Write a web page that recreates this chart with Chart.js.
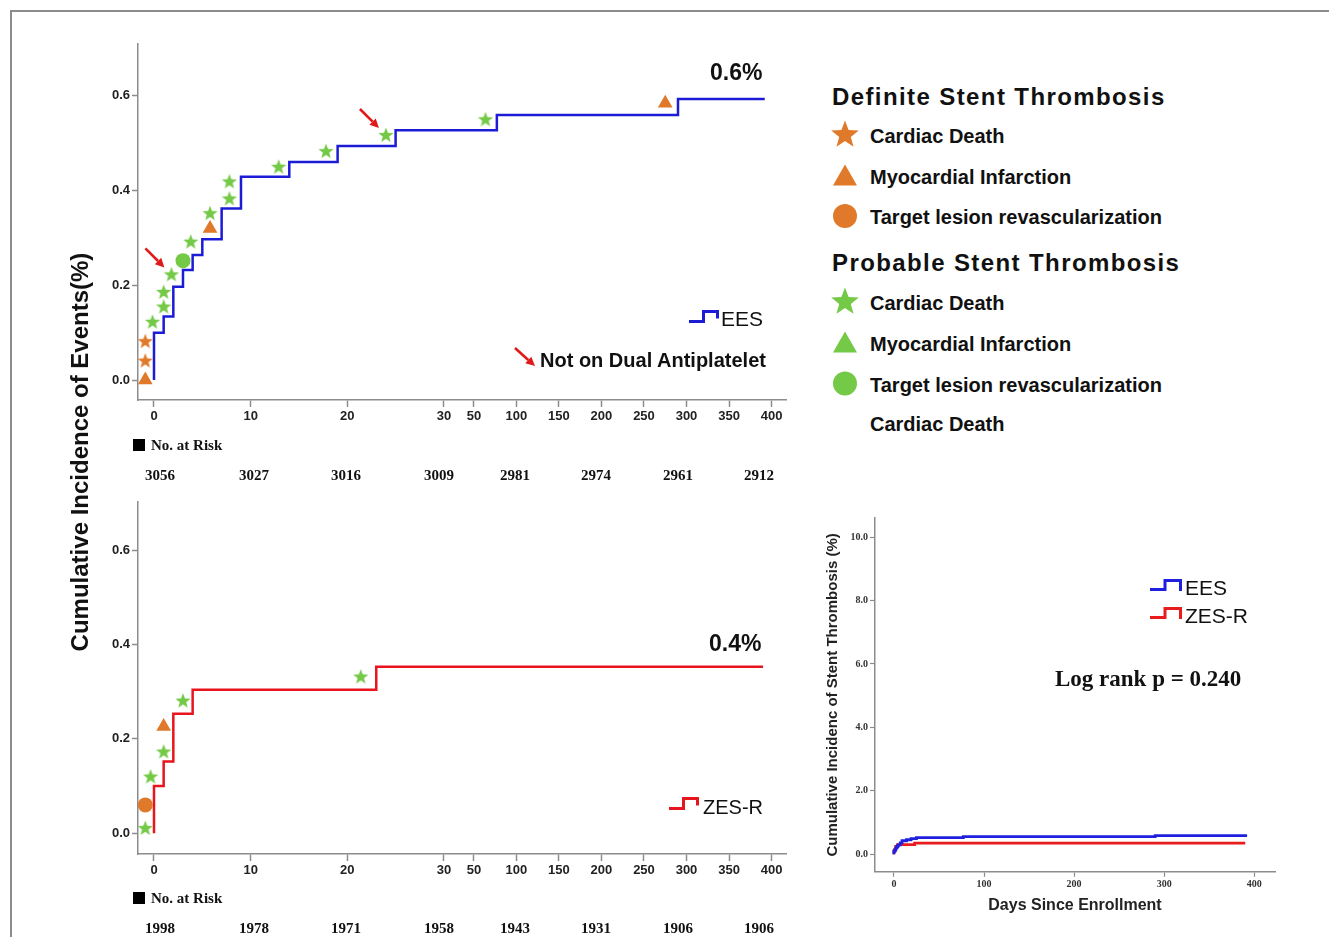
<!DOCTYPE html>
<html>
<head>
<meta charset="utf-8">
<script src="https://cdn.jsdelivr.net/npm/chart.js@4.4.1/dist/chart.umd.min.js"></script>
<style>
  html, body { margin:0; padding:0; background:#fff; }
  body { width:1329px; height:937px; position:relative; overflow:hidden; font-family:"Liberation Sans", Arial, sans-serif; color:#111; }
  .box { position:absolute; }
  .t { position:absolute; white-space:nowrap; line-height:1; }
</style>
</head>
<body>
<div class="box" style="left:10px;top:10px;width:1400px;height:1000px;border-top:2px solid #8c8c8c;border-left:2px solid #8c8c8c;"></div>
<div class="box" style="left:0;top:0;width:800px;height:490px;"><canvas id="topChart"></canvas></div>
<div class="box" style="left:0;top:490px;width:800px;height:447px;"><canvas id="bottomChart"></canvas></div>
<div class="box" style="left:800px;top:500px;width:529px;height:437px;"><canvas id="smallChart"></canvas></div>
<div id="overlay"></div>
<svg id="svg" class="box" style="left:0;top:0;" width="1329" height="937"></svg>
<script>
// ---------------- data ----------------
const X_TICK_DAYS = [0, 10, 20, 30, 50, 100, 150, 200, 250, 300, 350, 400];
const Y_TICKS = [0, 0.2, 0.4, 0.6];
const SMALL_X_TICKS = [0, 100, 200, 300, 400];
const SMALL_Y_TICKS = [0, 2, 4, 6, 8, 10];

// Kaplan-Meier style cumulative incidence (%) — EES
const EES_DAYS = [0, 0, 1, 2, 3, 4, 5, 7, 9, 14, 19, 25, 77, 290, 392];
const EES_CUM  = [0, 0.10, 0.134, 0.197, 0.232, 0.264, 0.297, 0.362, 0.429, 0.46, 0.494, 0.527, 0.559, 0.593, 0.593];
// ZES-R
const ZES_DAYS = [0, 0, 1, 2, 4, 23, 390];
const ZES_CUM  = [0, 0.10, 0.152, 0.253, 0.304, 0.353, 0.353];

// EES events
const EES_DEF_CD_DAYS = [-0.9, -0.9];
const EES_DEF_CD_VAL  = [0.041, 0.082];
const EES_DEF_MI_DAYS = [-0.9, 5.8, 275];
const EES_DEF_MI_VAL  = [0.0, 0.32, 0.584];
const EES_PROB_CD_DAYS = [-0.15, 1, 1, 1.8, 3.8, 5.8, 7.8, 7.8, 12.9, 17.8, 24, 63.6];
const EES_PROB_CD_VAL  = [0.123, 0.155, 0.186, 0.223, 0.292, 0.352, 0.383, 0.419, 0.45, 0.483, 0.517, 0.55];
const EES_PROB_CD_NO_DAPT = [false, false, false, true, false, false, false, false, false, false, true, false];
const EES_PROB_TLR_DAYS = [3];
const EES_PROB_TLR_VAL  = [0.252];

// ZES-R events
const ZES_PROB_CD_DAYS = [-0.9, -0.35, 1, 3, 21.4];
const ZES_PROB_CD_VAL  = [0.011, 0.12, 0.173, 0.281, 0.332];
const ZES_DEF_TLR_DAYS = [-0.9];
const ZES_DEF_TLR_VAL  = [0.06];
const ZES_DEF_MI_DAYS = [1];
const ZES_DEF_MI_VAL  = [0.226];

// Number at risk
const RISK_EES = [3056, 3027, 3016, 3009, 2981, 2974, 2961, 2912];
const RISK_ZES = [1998, 1978, 1971, 1958, 1943, 1931, 1906, 1906];

// ---------------- layout / style ----------------
const X_AXIS_UNITS = [0, 10, 20, 30, 33.1, 37.5, 41.9, 46.3, 50.7, 55.1, 59.5, 63.9]; // broken-axis spacing
const RISK_COL_X = [160, 254, 346, 439, 515, 596, 678, 759];
const SANS = '"Liberation Sans", Arial, sans-serif';
const SERIF = '"Liberation Serif", "Times New Roman", serif';
const AXIS = '#8c8c8c';
const BLUE = '#1c1cd6';
const RED = '#e8141e';
const ORANGE = '#e07a2a';
const GREEN = '#74c947';
const ARROW = '#e01a1a';

Chart.defaults.font.family = SANS;

// -------- piecewise (broken) x scale --------
class PiecewiseScale extends Chart.LinearScale {
  mapDay(v) {
    const d = X_TICK_DAYS, u = X_AXIS_UNITS, n = d.length - 1;
    if (v <= d[0]) return u[0] + (v - d[0]) * (u[1] - u[0]) / (d[1] - d[0]);
    for (let i = 1; i <= n; i++) {
      if (v <= d[i]) return u[i - 1] + (v - d[i - 1]) * (u[i] - u[i - 1]) / (d[i] - d[i - 1]);
    }
    return u[n] + (v - d[n]) * (u[n] - u[n - 1]) / (d[n] - d[n - 1]);
  }
  buildTicks() { return X_TICK_DAYS.map(v => ({ value: v })); }
  getPixelForValue(v) {
    if (v === null || v === undefined || isNaN(v)) return NaN;
    const a = this.mapDay(this.min), b = this.mapDay(this.max);
    return this.getPixelForDecimal((this.mapDay(v) - a) / (b - a));
  }
  getValueForPixel(p) {
    const a = this.mapDay(this.min), b = this.mapDay(this.max);
    const u = a + this.getDecimalForPixel(p) * (b - a);
    let lo = this.min, hi = this.max;
    for (let k = 0; k < 50; k++) { const m = (lo + hi) / 2; if (this.mapDay(m) < u) lo = m; else hi = m; }
    return (lo + hi) / 2;
  }
}
PiecewiseScale.id = 'piecewise';
Chart.register(PiecewiseScale);

// -------- marker images --------
function makeStar(color, size) {
  const c = document.createElement('canvas');
  c.width = size; c.height = size;
  const g = c.getContext('2d');
  const R = size / 2, r = R * 0.42, cx = size / 2, cy = size / 2 + 0.5;
  g.beginPath();
  for (let k = 0; k < 10; k++) {
    const a = -Math.PI / 2 + k * Math.PI / 5;
    const rad = k % 2 === 0 ? R : r;
    const x = cx + rad * Math.cos(a), y = cy + rad * Math.sin(a);
    if (k === 0) g.moveTo(x, y); else g.lineTo(x, y);
  }
  g.closePath();
  g.fillStyle = color;
  g.fill();
  return c;
}
const STAR_ORANGE = makeStar(ORANGE, 16);
const STAR_GREEN = makeStar(GREEN, 16);

const pts = (days, vals) => days.map((d, i) => ({ x: d, y: vals[i] }));

function stepLine(label, days, vals, color, width) {
  return { label, data: pts(days, vals), stepped: true, borderColor: color, borderWidth: width,
           pointRadius: 0, fill: false, borderJoinStyle: 'miter', borderCapStyle: 'butt', order: 5 };
}
function marker(label, days, vals, style, color, radius, extra) {
  return Object.assign({ label, data: pts(days, vals), showLine: false, pointStyle: style,
    pointRadius: radius, pointBackgroundColor: color, pointBorderColor: color, pointBorderWidth: 0,
    clip: false, order: 1 }, extra || {});
}

// -------- arrow plugin ("Not on Dual Antiplatelet") --------
function drawArrow(ctx, x1, y1, x2, y2, color) {
  const ang = Math.atan2(y2 - y1, x2 - x1), hl = 9, hw = 4.5;
  const bx = x2 - hl * Math.cos(ang), by = y2 - hl * Math.sin(ang);
  ctx.save();
  ctx.strokeStyle = color; ctx.fillStyle = color; ctx.lineWidth = 2.6;
  ctx.beginPath(); ctx.moveTo(x1, y1); ctx.lineTo(bx, by); ctx.stroke();
  ctx.beginPath();
  ctx.moveTo(x2, y2);
  ctx.lineTo(bx + hw * Math.sin(ang), by - hw * Math.cos(ang));
  ctx.lineTo(bx - hw * Math.sin(ang), by + hw * Math.cos(ang));
  ctx.closePath(); ctx.fill();
  ctx.restore();
}
const arrowPlugin = {
  id: 'noDaptArrows',
  afterDatasetsDraw(chart) {
    chart.data.datasets.forEach((ds, i) => {
      if (!ds.noDapt) return;
      chart.getDatasetMeta(i).data.forEach((pt, j) => {
        if (ds.noDapt[j]) drawArrow(chart.ctx, pt.x - 26, pt.y - 26, pt.x - 7, pt.y - 7, ARROW);
      });
    });
  }
};

function kmOptions(padTop, xHeight, yMin, yMax) {
  return {
    responsive: true, maintainAspectRatio: false, animation: false, events: [],
    layout: { padding: { top: padTop, right: 14, left: 0, bottom: 0 } },
    plugins: { legend: { display: false }, tooltip: { enabled: false }, title: { display: false } },
    scales: {
      x: {
        type: 'piecewise', min: -1.655, max: 417,
        afterFit(s) { s.height = xHeight; },
        border: { display: true, color: AXIS, width: 1.5 },
        grid: { display: true, drawOnChartArea: false, drawTicks: true, tickLength: 7, tickColor: AXIS, tickWidth: 1.5 },
        ticks: { autoSkip: false, maxRotation: 0, minRotation: 0, padding: 2, color: '#222',
                 font: { family: SANS, size: 13, weight: 'bold' }, callback: v => String(v) }
      },
      y: {
        type: 'linear', min: yMin, max: yMax,
        afterFit(s) { s.width = 138; },
        afterBuildTicks(s) { s.ticks = Y_TICKS.map(v => ({ value: v })); },
        border: { display: true, color: AXIS, width: 1.5 },
        grid: { display: true, drawOnChartArea: false, drawTicks: true, tickLength: 6, tickColor: AXIS, tickWidth: 1.5 },
        ticks: { padding: 2, color: '#222', font: { family: SANS, size: 13, weight: 'bold' },
                 callback: v => Number(v).toFixed(1) }
      }
    }
  };
}

// -------- top chart (EES) --------
new Chart(document.getElementById('topChart'), {
  type: 'line',
  data: {
    datasets: [
      marker('Definite Cardiac Death', EES_DEF_CD_DAYS, EES_DEF_CD_VAL, STAR_ORANGE, ORANGE, 7),
      marker('Definite Myocardial Infarction', EES_DEF_MI_DAYS, EES_DEF_MI_VAL, 'triangle', ORANGE, 8.5),
      marker('Probable Cardiac Death', EES_PROB_CD_DAYS, EES_PROB_CD_VAL, STAR_GREEN, GREEN, 7, { noDapt: EES_PROB_CD_NO_DAPT }),
      marker('Probable Target lesion revascularization', EES_PROB_TLR_DAYS, EES_PROB_TLR_VAL, 'circle', GREEN, 7.5),
      stepLine('EES', EES_DAYS, EES_CUM, BLUE, 2.5)
    ]
  },
  options: kmOptions(44, 90, -0.042, 0.709),
  plugins: [arrowPlugin]
});

// -------- bottom chart (ZES-R) --------
new Chart(document.getElementById('bottomChart'), {
  type: 'line',
  data: {
    datasets: [
      marker('Probable Cardiac Death', ZES_PROB_CD_DAYS, ZES_PROB_CD_VAL, STAR_GREEN, GREEN, 7),
      marker('Definite Target lesion revascularization', ZES_DEF_TLR_DAYS, ZES_DEF_TLR_VAL, 'circle', ORANGE, 7.5),
      marker('Definite Myocardial Infarction', ZES_DEF_MI_DAYS, ZES_DEF_MI_VAL, 'triangle', ORANGE, 8.5),
      stepLine('ZES-R', ZES_DAYS, ZES_CUM, RED, 2.5)
    ]
  },
  options: kmOptions(12, 83, -0.044, 0.702),
  plugins: [arrowPlugin]
});

// -------- small overall chart --------
new Chart(document.getElementById('smallChart'), {
  type: 'line',
  data: {
    datasets: [
      stepLine('EES', EES_DAYS, EES_CUM, '#1f1fe0', 2.8),
      stepLine('ZES-R', ZES_DAYS, ZES_CUM, '#e81c1c', 2.8)
    ]
  },
  options: {
    responsive: true, maintainAspectRatio: false, animation: false, events: [],
    layout: { padding: { top: 18, right: 54, left: 0, bottom: 0 } },
    plugins: { legend: { display: false }, tooltip: { enabled: false } },
    scales: {
      x: {
        type: 'linear', min: -21, max: 423,
        afterFit(s) { s.height = 65.2; },
        afterBuildTicks(s) { s.ticks = SMALL_X_TICKS.map(v => ({ value: v })); },
        border: { display: true, color: AXIS, width: 1.5 },
        grid: { display: true, drawOnChartArea: false, drawTicks: true, tickLength: 5, tickColor: AXIS, tickWidth: 1.2 },
        ticks: { padding: 2, color: '#333', font: { family: SERIF, size: 10, weight: 'bold' }, callback: v => String(v) },
        title: { display: true, text: 'Days Since Enrollment', color: '#222',
                 font: { family: SANS, size: 16, weight: 'bold' }, padding: { top: 0, bottom: 22 } }
      },
      y: {
        type: 'linear', min: -0.55, max: 10.6,
        afterFit(s) { s.width = 75; },
        afterBuildTicks(s) { s.ticks = SMALL_Y_TICKS.map(v => ({ value: v })); },
        border: { display: true, color: AXIS, width: 1.5 },
        grid: { display: true, drawOnChartArea: false, drawTicks: true, tickLength: 5, tickColor: AXIS, tickWidth: 1.2 },
        ticks: { padding: 2, color: '#333', font: { family: SERIF, size: 10, weight: 'bold' }, callback: v => Number(v).toFixed(1) },
        title: { display: true, text: 'Cumulative Incidenc of Stent Thrombosis (%)', color: '#222',
                 font: { family: SANS, size: 15, weight: 'bold' }, padding: { top: 24, bottom: 0 } }
      }
    }
  }
});

// -------- text overlays --------
const overlay = document.getElementById('overlay');
function addText(str, left, centerY, size, opts) {
  opts = opts || {};
  const d = document.createElement('div');
  d.className = 't';
  d.textContent = str;
  d.style.fontSize = size + 'px';
  d.style.fontWeight = opts.bold ? 'bold' : 'normal';
  d.style.fontFamily = opts.serif ? SERIF : SANS;
  if (opts.spacing) d.style.letterSpacing = opts.spacing + 'px';
  d.style.top = (centerY - size * 0.49) + 'px';
  if (opts.center) {
    d.style.left = (left - 100) + 'px';
    d.style.width = '200px';
    d.style.textAlign = 'center';
  } else {
    d.style.left = left + 'px';
  }
  overlay.appendChild(d);
  return d;
}

// rotated shared y title
(function () {
  const d = document.createElement('div');
  d.className = 't';
  d.textContent = 'Cumulative Incidence of Events(%)';
  d.style.fontSize = '24px'; d.style.fontWeight = 'bold';
  d.style.fontFamily = SANS;
  d.style.width = '460px'; d.style.textAlign = 'center';
  d.style.left = (80 - 230) + 'px'; d.style.top = (452 - 12) + 'px';
  d.style.transform = 'rotate(-90deg)';
  overlay.appendChild(d);
})();

addText('0.6%', 710, 72, 23, { bold: true });
addText('0.4%', 709, 643, 23, { bold: true });
addText('EES', 721, 318.5, 21);
addText('Not on Dual Antiplatelet', 540, 359.5, 20, { bold: true });
addText('ZES-R', 703, 806.5, 20);

// number at risk rows
function riskRows(values, labelY, numY) {
  const sq = document.createElement('div');
  sq.style.cssText = 'position:absolute;background:#000;width:12px;height:12px;left:133px;top:' + (labelY - 6) + 'px';
  overlay.appendChild(sq);
  addText('No. at Risk', 151, labelY, 15, { bold: true, serif: true });
  values.forEach((v, i) => addText(String(v), RISK_COL_X[i], numY, 15, { bold: true, serif: true, center: true }));
}
riskRows(RISK_EES, 445, 475);
riskRows(RISK_ZES, 898, 928);

// small chart legend + stats
addText('EES', 1185, 587, 21);
addText('ZES-R', 1185, 615, 21);
addText('Log rank p = 0.240', 1055, 678.5, 23, { bold: true, serif: true });

// right-side symbol legend
const LEGEND_GROUPS = [
  { title: 'Definite Stent Thrombosis', color: ORANGE },
  { title: 'Probable Stent Thrombosis', color: GREEN }
];
const LEGEND_ITEMS = ['Cardiac Death', 'Myocardial Infarction', 'Target lesion revascularization'];
const LEGEND_SHAPES = ['star', 'triangle', 'circle'];
const GROUP_TITLE_Y = [96.5, 262.5];
const ITEM_Y = [[136, 176.5, 217], [303, 343.5, 384.5]];

const svg = document.getElementById('svg');
const NS = 'http://www.w3.org/2000/svg';
function svgEl(tag, attrs) {
  const e = document.createElementNS(NS, tag);
  for (const k in attrs) e.setAttribute(k, attrs[k]);
  svg.appendChild(e);
  return e;
}
function starPts(cx, cy, R, r) {
  const p = [];
  for (let k = 0; k < 10; k++) {
    const a = -Math.PI / 2 + k * Math.PI / 5, rad = k % 2 === 0 ? R : r;
    p.push((cx + rad * Math.cos(a)).toFixed(2) + ',' + (cy + rad * Math.sin(a)).toFixed(2));
  }
  return p.join(' ');
}
function symbol(shape, cx, cy, color) {
  if (shape === 'star') svgEl('polygon', { points: starPts(cx, cy - 1, 14.5, 6.1), fill: color });
  else if (shape === 'triangle') svgEl('polygon', { points: `${cx},${cy - 12} ${cx - 12},${cy + 9} ${cx + 12},${cy + 9}`, fill: color });
  else svgEl('circle', { cx, cy: cy - 1, r: 12, fill: color });
}
LEGEND_GROUPS.forEach((g, gi) => {
  addText(g.title, 832, GROUP_TITLE_Y[gi], 24, { bold: true, spacing: 1.4 });
  LEGEND_ITEMS.forEach((it, ii) => {
    symbol(LEGEND_SHAPES[ii], 845, ITEM_Y[gi][ii], g.color);
    addText(it, 870, ITEM_Y[gi][ii], 20, { bold: true });
  });
});
addText('Cardiac Death', 870, 424, 20, { bold: true });

// step-line legend icons
function stepIcon(x0, x1, x2, yLow, yHigh, yEnd, color) {
  svgEl('polyline', { points: `${x0},${yLow} ${x1},${yLow} ${x1},${yHigh} ${x2},${yHigh} ${x2},${yEnd}`,
    fill: 'none', stroke: color, 'stroke-width': 3, 'stroke-linejoin': 'miter' });
}
stepIcon(689, 703.5, 717.5, 321.5, 311.5, 318.5, BLUE);
stepIcon(669, 683.5, 697.5, 808.5, 798.5, 805.5, RED);
stepIcon(1150, 1165, 1180.5, 589.5, 580.5, 591, '#1f1fe0');
stepIcon(1150, 1165, 1180.5, 617.5, 608.5, 619, '#e81c1c');

// legend arrow
(function () {
  const x1 = 515, y1 = 348, x2 = 535, y2 = 366;
  const ang = Math.atan2(y2 - y1, x2 - x1), hl = 9, hw = 4.5;
  const bx = x2 - hl * Math.cos(ang), by = y2 - hl * Math.sin(ang);
  svgEl('line', { x1, y1, x2: bx, y2: by, stroke: ARROW, 'stroke-width': 2.6 });
  svgEl('polygon', { points: `${x2},${y2} ${bx + hw * Math.sin(ang)},${by - hw * Math.cos(ang)} ${bx - hw * Math.sin(ang)},${by + hw * Math.cos(ang)}`, fill: ARROW });
})();
</script>
</body>
</html>
